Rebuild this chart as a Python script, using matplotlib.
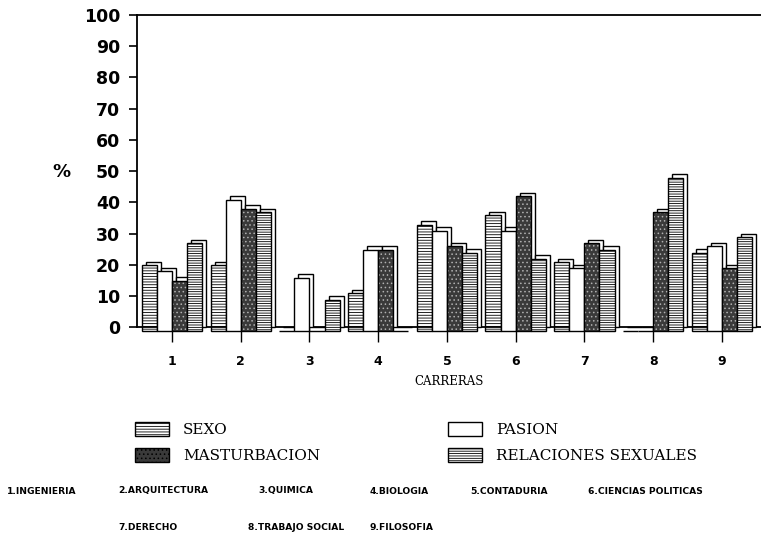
import numpy as np
import matplotlib
matplotlib.use('Agg')
import matplotlib.pyplot as plt
import matplotlib.transforms as mtransforms
from matplotlib.patches import Patch

carreras = [1, 2, 3, 4, 5, 6, 7, 8, 9]
sexo = [21, 21, 0, 12, 34, 37, 22, 0, 25]
pasion = [19, 42, 17, 26, 32, 32, 20, 0, 27]
masturbacion = [16, 39, 0, 26, 27, 43, 28, 38, 20]
relaciones = [28, 38, 10, 0, 25, 23, 26, 49, 30]

series_names = ['SEXO', 'PASION', 'MASTURBACION', 'RELACIONES SEXUALES']
nombres = ['1.INGENIERIA', '2.ARQUITECTURA', '3.QUIMICA', '4.BIOLOGIA', '5.CONTADURIA',
           '6.CIENCIAS POLITICAS', '7.DERECHO', '8.TRABAJO SOCIAL', '9.FILOSOFIA']


def main():
    fig = plt.figure(figsize=(7.61, 5.33), dpi=100)
    ax = fig.add_axes([0.18, 0.386, 0.82, 0.586])

    x = np.array(carreras, dtype=float)
    w = 0.22
    back = ax.transData + mtransforms.ScaledTranslation(0.04, 0.0, fig.dpi_scale_trans)
    front = ax.transData + mtransforms.ScaledTranslation(0.0, -0.035, fig.dpi_scale_trans)

    data = [sexo, pasion, masturbacion, relaciones]
    hatches = ['------', None, '....', '-------']
    faces = ['white', 'white', '#3a3a3a', 'white']
    plt.rcParams['hatch.linewidth'] = 0.6
    for k, vals in enumerate(data):
        pos = x + (k - 1.5) * w
        # back face gives the depth look
        ax.bar(pos, vals, w, color='white', edgecolor='black', linewidth=1.0,
               transform=back, zorder=2 * k + 1, clip_on=False)
        if k == 2:
            plt.rcParams['hatch.color'] = '#b0b0b0'
            ax.bar(pos, vals, w, facecolor=faces[k], linewidth=0, hatch=hatches[k],
                   transform=front, zorder=2 * k + 2, clip_on=False)
            ax.bar(pos, vals, w, fill=False, edgecolor='black', linewidth=1.0,
                   transform=front, zorder=2 * k + 2, clip_on=False)
        else:
            ax.bar(pos, vals, w, facecolor=faces[k], edgecolor='black', linewidth=1.0,
                   hatch=hatches[k], transform=front, zorder=2 * k + 2, clip_on=False)

    ax.set_xlim(0.49, 9.57)
    ax.set_ylim(0, 100)
    ax.set_yticks(range(0, 101, 10))
    ax.set_xticks(carreras)
    ax.set_xticklabels([str(c) for c in carreras])
    ax.spines['right'].set_visible(False)
    for s in ['left', 'top', 'bottom']:
        ax.spines[s].set_linewidth(1.3)
    ax.tick_params(axis='y', direction='out', length=6, width=1.2, labelsize=12.5, pad=6)
    ax.tick_params(axis='x', direction='out', length=11, width=1.0, labelsize=9, pad=9)
    for lab in ax.get_yticklabels() + ax.get_xticklabels():
        lab.set_fontweight('bold')

    ax.set_xlabel('CARRERAS', family='DejaVu Serif', fontsize=8.5, labelpad=5)
    fig.text(61 / 761, 0.677, '%', fontsize=13, fontweight='bold', ha='center', va='center')

    handles = [
        Patch(facecolor='white', edgecolor='black', hatch='------'),
        Patch(facecolor='#3a3a3a', edgecolor='black', hatch='....'),
        Patch(facecolor='white', edgecolor='black'),
        Patch(facecolor='white', edgecolor='black', hatch='-------'),
    ]
    labels = [series_names[0], series_names[2], series_names[1], series_names[3]]
    fig.legend(handles, labels, ncol=2, loc='upper left', bbox_to_anchor=(0.17, 0.2195),
               frameon=False, prop={'family': 'DejaVu Serif', 'size': 11},
               handlelength=2.2, handleheight=1.0, columnspacing=8.4,
               labelspacing=0.7, handletextpad=0.9, borderaxespad=0)

    row1 = [7, 118, 258, 370, 470, 588]
    row2 = [118, 248, 370]
    for nm, xp in zip(nombres[:6], row1):
        fig.text(xp / 761, 1 - 491 / 533, nm, fontsize=6.6, fontweight='bold', va='center')
    for nm, xp in zip(nombres[6:], row2):
        fig.text(xp / 761, 1 - 528 / 533, nm, fontsize=6.6, fontweight='bold', va='center')

    fig.savefig('out.png', dpi=100)


if __name__ == "__main__":
    main()
